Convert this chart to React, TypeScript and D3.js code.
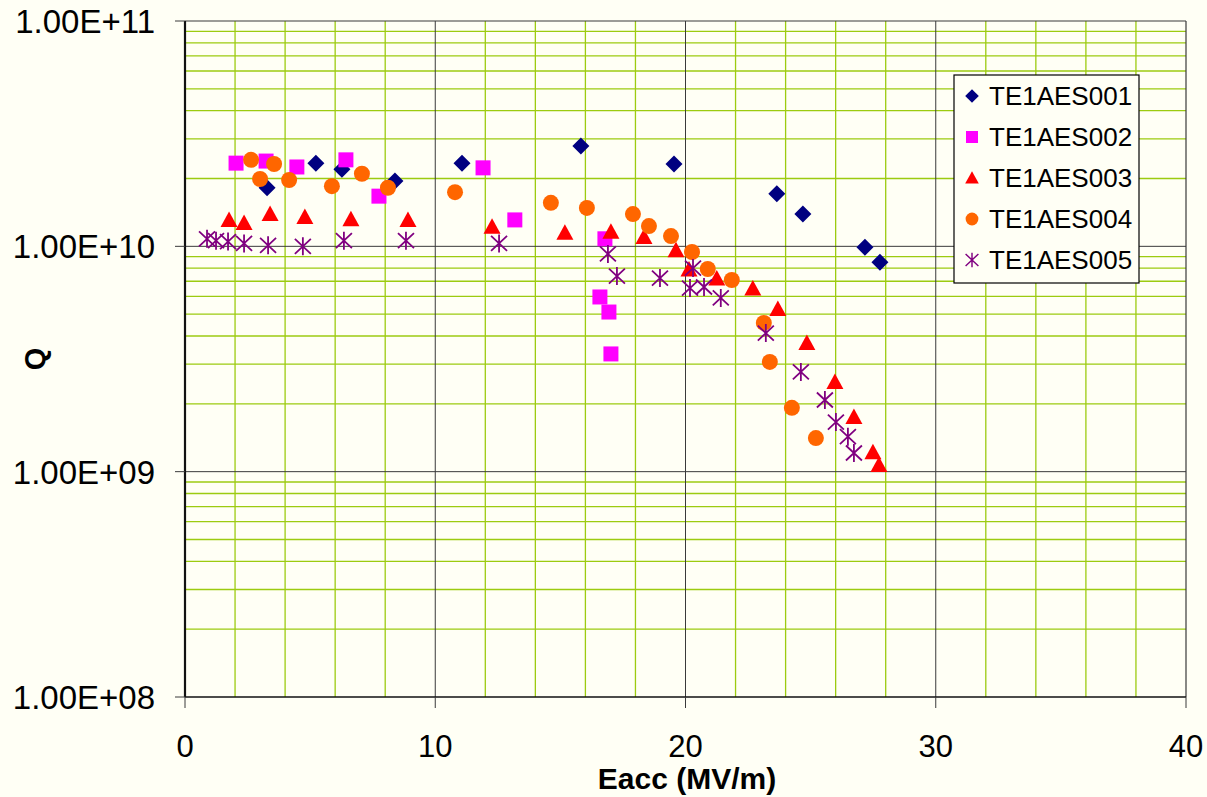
import React from "react";
import * as d3 from "d3";

const s1x = [3.28, 5.23, 6.27, 8.39, 11.07, 15.82, 19.54, 23.65, 24.69, 27.17, 27.77];
const s1y = [1.82e10, 2.34e10, 2.2e10, 1.95e10, 2.34e10, 2.79e10, 2.32e10, 1.71e10, 1.39e10, 0.99e10, 8.5e9];

const s2x = [2.04, 3.24, 4.47, 6.43, 7.75, 11.91, 13.18, 16.78, 16.58, 16.94, 17.02];
const s2y = [2.34e10, 2.39e10, 2.25e10, 2.42e10, 1.67e10, 2.23e10, 1.31e10, 1.08e10, 5.96e9, 5.11e9, 3.33e9];

const s3x = [1.76, 2.36, 3.4, 4.79, 6.63, 8.91, 12.27, 15.18, 17.02, 18.34, 19.62, 20.14, 21.25, 22.69, 23.69, 24.85, 25.97, 26.73, 27.49, 27.73];
const s3y = [1.31e10, 1.27e10, 1.39e10, 1.35e10, 1.32e10, 1.31e10, 1.22e10, 1.15e10, 1.16e10, 1.1e10, 9.6e9, 7.9e9, 7.2e9, 6.5e9, 5.27e9, 3.72e9, 2.5e9, 1.75e9, 1.22e9, 1.07e9];

const s4x = [2.64, 3.0, 3.56, 4.16, 5.87, 7.07, 8.11, 10.79, 14.62, 16.06, 17.9, 18.54, 19.42, 20.26, 20.89, 21.85, 23.13, 23.37, 24.25, 25.21];
const s4y = [2.42e10, 1.99e10, 2.32e10, 1.97e10, 1.85e10, 2.1e10, 1.82e10, 1.74e10, 1.56e10, 1.48e10, 1.39e10, 1.23e10, 1.11e10, 9.44e9, 7.93e9, 7.09e9, 4.57e9, 3.07e9, 1.92e9, 1.41e9];

const s5x = [0.88, 1.24, 1.72, 2.36, 3.32, 4.71, 6.35, 8.83, 12.55, 16.9, 17.26, 18.98, 20.3, 20.18, 20.74, 21.41, 23.21, 24.61, 25.57, 26.01, 26.49, 26.73];
const s5y = [1.08e10, 1.06e10, 1.05e10, 1.03e10, 1.01e10, 1.0e10, 1.06e10, 1.06e10, 1.03e10, 9.25e9, 7.38e9, 7.23e9, 8.01e9, 6.53e9, 6.6e9, 5.9e9, 4.12e9, 2.77e9, 2.08e9, 1.66e9, 1.43e9, 1.21e9];

const seriesNames = ["TE1AES001", "TE1AES002", "TE1AES003", "TE1AES004", "TE1AES005"];
const seriesColors = ["#000080", "#FF00FF", "#FF0000", "#FF6600", "#800080"];
const seriesShapes = ["diamond", "square", "triangle", "circle", "star"];

const xTicks = [0, 10, 20, 30, 40];
const yTicks = [1e8, 1e9, 1e10, 1e11];
const yTickLabels = ["1.00E+08", "1.00E+09", "1.00E+10", "1.00E+11"];

const FONT = "'Liberation Sans', Arial, sans-serif";
const BG = "#FFFFF5";
const GRID = "#9CCB10";
const MAJOR = "#3a3a3a";

function Marker({ shape, color, x, y, s = 1 }: { shape: string; color: string; x: number; y: number; s?: number }) {
  const t = `translate(${x},${y}) scale(${s})`;
  if (shape === "diamond") return <path transform={t} d="M0,-8.5L8.5,0L0,8.5L-8.5,0Z" fill={color} />;
  if (shape === "square") return <rect transform={t} x={-7.5} y={-7.5} width={15} height={15} fill={color} />;
  if (shape === "triangle") return <path transform={t} d="M0,-8.5L8.5,7L-8.5,7Z" fill={color} />;
  if (shape === "circle") return <circle transform={t} r={8} fill={color} />;
  return (
    <path
      transform={t}
      d="M-8,-7.5L8,7.5M-8,7.5L8,-7.5M0,-9L0,9"
      stroke={color}
      strokeWidth={1.8}
      fill="none"
    />
  );
}

export default function App() {
  const W = 1207, H = 797;
  const x = d3.scaleLinear().domain([0, 40]).range([185, 1186]);
  const y = d3.scaleLog().domain([1e8, 1e11]).range([697, 21]);
  const [x0, x1] = x.range();
  const [yb, yt] = y.range();

  const minorX = d3.range(2, 40, 2).filter((v) => v % 10 !== 0);
  const minorY: number[] = [];
  for (let e = 8; e < 11; e++) for (let m = 2; m <= 9; m++) minorY.push(m * Math.pow(10, e));

  const series = [
    [s1x, s1y],
    [s2x, s2y],
    [s3x, s3y],
    [s4x, s4y],
    [s5x, s5y],
  ];

  const lg = { x: 954, y: 75, w: 185, h: 208 };

  return (
    <svg width={W} height={H} style={{ position: "absolute", left: 0, top: 0, display: "block" }} fontFamily={FONT}>
      <rect x={0} y={0} width={W} height={H} fill={BG} />
      {minorX.map((v) => (
        <line key={"mx" + v} x1={x(v)} x2={x(v)} y1={yt} y2={yb} stroke={GRID} strokeWidth={1.3} />
      ))}
      {minorY.map((v, i) => (
        <line key={"my" + i} x1={x0} x2={x1} y1={y(v)} y2={y(v)} stroke={GRID} strokeWidth={1.3} />
      ))}
      {[10, 20, 30].map((v) => (
        <line key={"Mx" + v} x1={x(v)} x2={x(v)} y1={yt} y2={yb} stroke={MAJOR} strokeWidth={1} />
      ))}
      {[1e9, 1e10].map((v, i) => (
        <line key={"My" + i} x1={x0} x2={x1} y1={y(v)} y2={y(v)} stroke={MAJOR} strokeWidth={1} />
      ))}
      <line x1={x0} x2={x1} y1={yt} y2={yt} stroke={MAJOR} strokeWidth={1.2} />
      <line x1={x1} x2={x1} y1={yt} y2={yb} stroke={MAJOR} strokeWidth={1.2} />
      <line x1={x0} x2={x1} y1={yb} y2={yb} stroke="#111" strokeWidth={1.5} />
      <line x1={x0} x2={x0} y1={yt} y2={yb} stroke="#111" strokeWidth={2.2} />
      {xTicks.map((v) => (
        <g key={"xt" + v}>
          <line x1={x(v)} x2={x(v)} y1={yb} y2={yb + 11} stroke={MAJOR} strokeWidth={1} />
          <text x={x(v)} y={757} fontSize={31} textAnchor="middle" fill="#000">
            {v}
          </text>
        </g>
      ))}
      {yTicks.map((v, i) => (
        <g key={"yt" + i}>
          <line x1={x0 - 10} x2={x0} y1={y(v)} y2={y(v)} stroke={MAJOR} strokeWidth={1} />
          <text x={155} y={y(v)} dy="0.36em" fontSize={33} textAnchor="end" fill="#000">
            {yTickLabels[i]}
          </text>
        </g>
      ))}
      <text x={687} y={789} fontSize={30} fontWeight="bold" textAnchor="middle" fill="#000">
        Eacc (MV/m)
      </text>
      <text
        transform={`translate(45,359) rotate(-90)`}
        fontSize={29}
        fontWeight="bold"
        textAnchor="middle"
        fill="#000"
      >
        Q
      </text>
      {series.map(([xs, ys], si) => (
        <g key={"s" + si}>
          {xs.map((xv, j) => (
            <Marker key={j} shape={seriesShapes[si]} color={seriesColors[si]} x={x(xv)} y={y(ys[j])} />
          ))}
        </g>
      ))}
      <rect x={lg.x} y={lg.y} width={lg.w} height={lg.h} fill={BG} stroke="#000" strokeWidth={1.2} />
      {seriesNames.map((n, i) => {
        const cy = 96 + i * 41;
        return (
          <g key={n}>
            <Marker shape={seriesShapes[i]} color={seriesColors[i]} x={972} y={cy} s={0.8} />
            <text x={989} y={cy} dy="0.36em" fontSize={26} fill="#000">
              {n}
            </text>
          </g>
        );
      })}
    </svg>
  );
}
